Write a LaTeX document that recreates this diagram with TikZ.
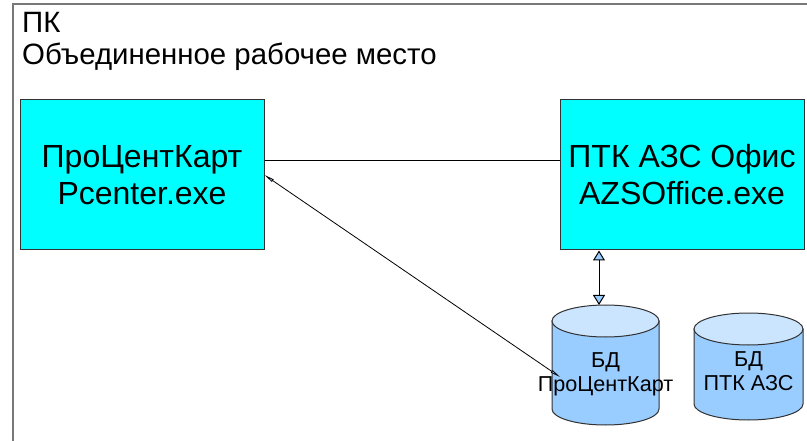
\documentclass[tikz,border=0pt]{standalone}
\usepackage{fontspec}
\setmainfont{Liberation Sans}
\usetikzlibrary{arrows.meta,calc}
\definecolor{boxcyan}{RGB}{0,255,255}
\definecolor{cylbody}{RGB}{153,204,255}
\definecolor{cyltop}{RGB}{204,229,255}
\definecolor{tipblue}{RGB}{153,204,255}
\definecolor{framegray}{RGB}{120,120,120}
\definecolor{edgegray}{RGB}{50,50,50}
\begin{document}
\begin{tikzpicture}[x=1pt,y=-1pt,
	appbox/.style={draw=edgegray, fill=boxcyan, line width=1pt, minimum width=244pt, minimum height=150pt, inner sep=0pt, align=center, font=\fontsize{32}{37}\selectfont},
	dbtext/.style={align=center, inner sep=0pt, font=\fontsize{21.6}{24}\selectfont},
	title/.style={anchor=base west, inner sep=0pt, font=\fontsize{29.4}{32}\selectfont},
	cylside/.style={draw=edgegray, fill=cylbody, line width=1pt},
	cylcap/.style={draw=edgegray, fill=cyltop, line width=1pt},
	bigtips/.style={line width=1pt, {Triangle[width=12pt,length=10pt,fill=tipblue]}-{Triangle[width=12pt,length=10pt,fill=tipblue]}},
	slimtips/.style={line width=0.8pt, {Triangle[width=3pt,length=10pt,fill=tipblue]}-{Triangle[width=3pt,length=10pt,fill=tipblue]}}
	]
	\useasboundingbox (0,0) rectangle (807,441);
	% outer frame
	\draw[framegray, line width=1.5pt] (13,441) -- (13,4) -- (807,4);
	\node[title] (pk) at (22,33) {ПК};
	\node[title] (arm) at (22,65) {Объединенное рабочее место};
	% applications
	\node[appbox] (pc) at (142,175) {ПроЦентКарт\\Pcenter.exe};
	\node[appbox] (azs) at (682,175) {ПТК АЗС Офис\\AZSOffice.exe};
	% databases
	\draw[cylside] (552,321) -- (552,409) arc[start angle=180, end angle=0, x radius=53.5, y radius=16] -- (659,321) -- cycle;
	\draw[cylcap] (605.5,321) ellipse[x radius=53.5, y radius=16];
	\coordinate (db1top) at (605.5,305);
	\coordinate (db1in) at (560,377);
	\node[dbtext] (db1) at (605.5,374) {БД\\ПроЦентКарт};
	\draw[cylside] (694,329) -- (694,404) arc[start angle=180, end angle=0, x radius=54.5, y radius=16] -- (803,329) -- cycle;
	\draw[cylcap] (748.5,329) ellipse[x radius=54.5, y radius=16];
	\node[dbtext] (db2) at (748.5,371) {БД\\ПТК АЗС};
	% links
	\draw[line width=0.8pt] ($(pc.north east)+(0,61)$) -- ($(azs.north west)+(0,61)$);
	\coordinate (v) at (599,0);
	\draw[bigtips] (azs.south -| v) -- (db1top -| v);
	\draw[slimtips] (pc.east) -- (db1in);
\end{tikzpicture}
\end{document}
